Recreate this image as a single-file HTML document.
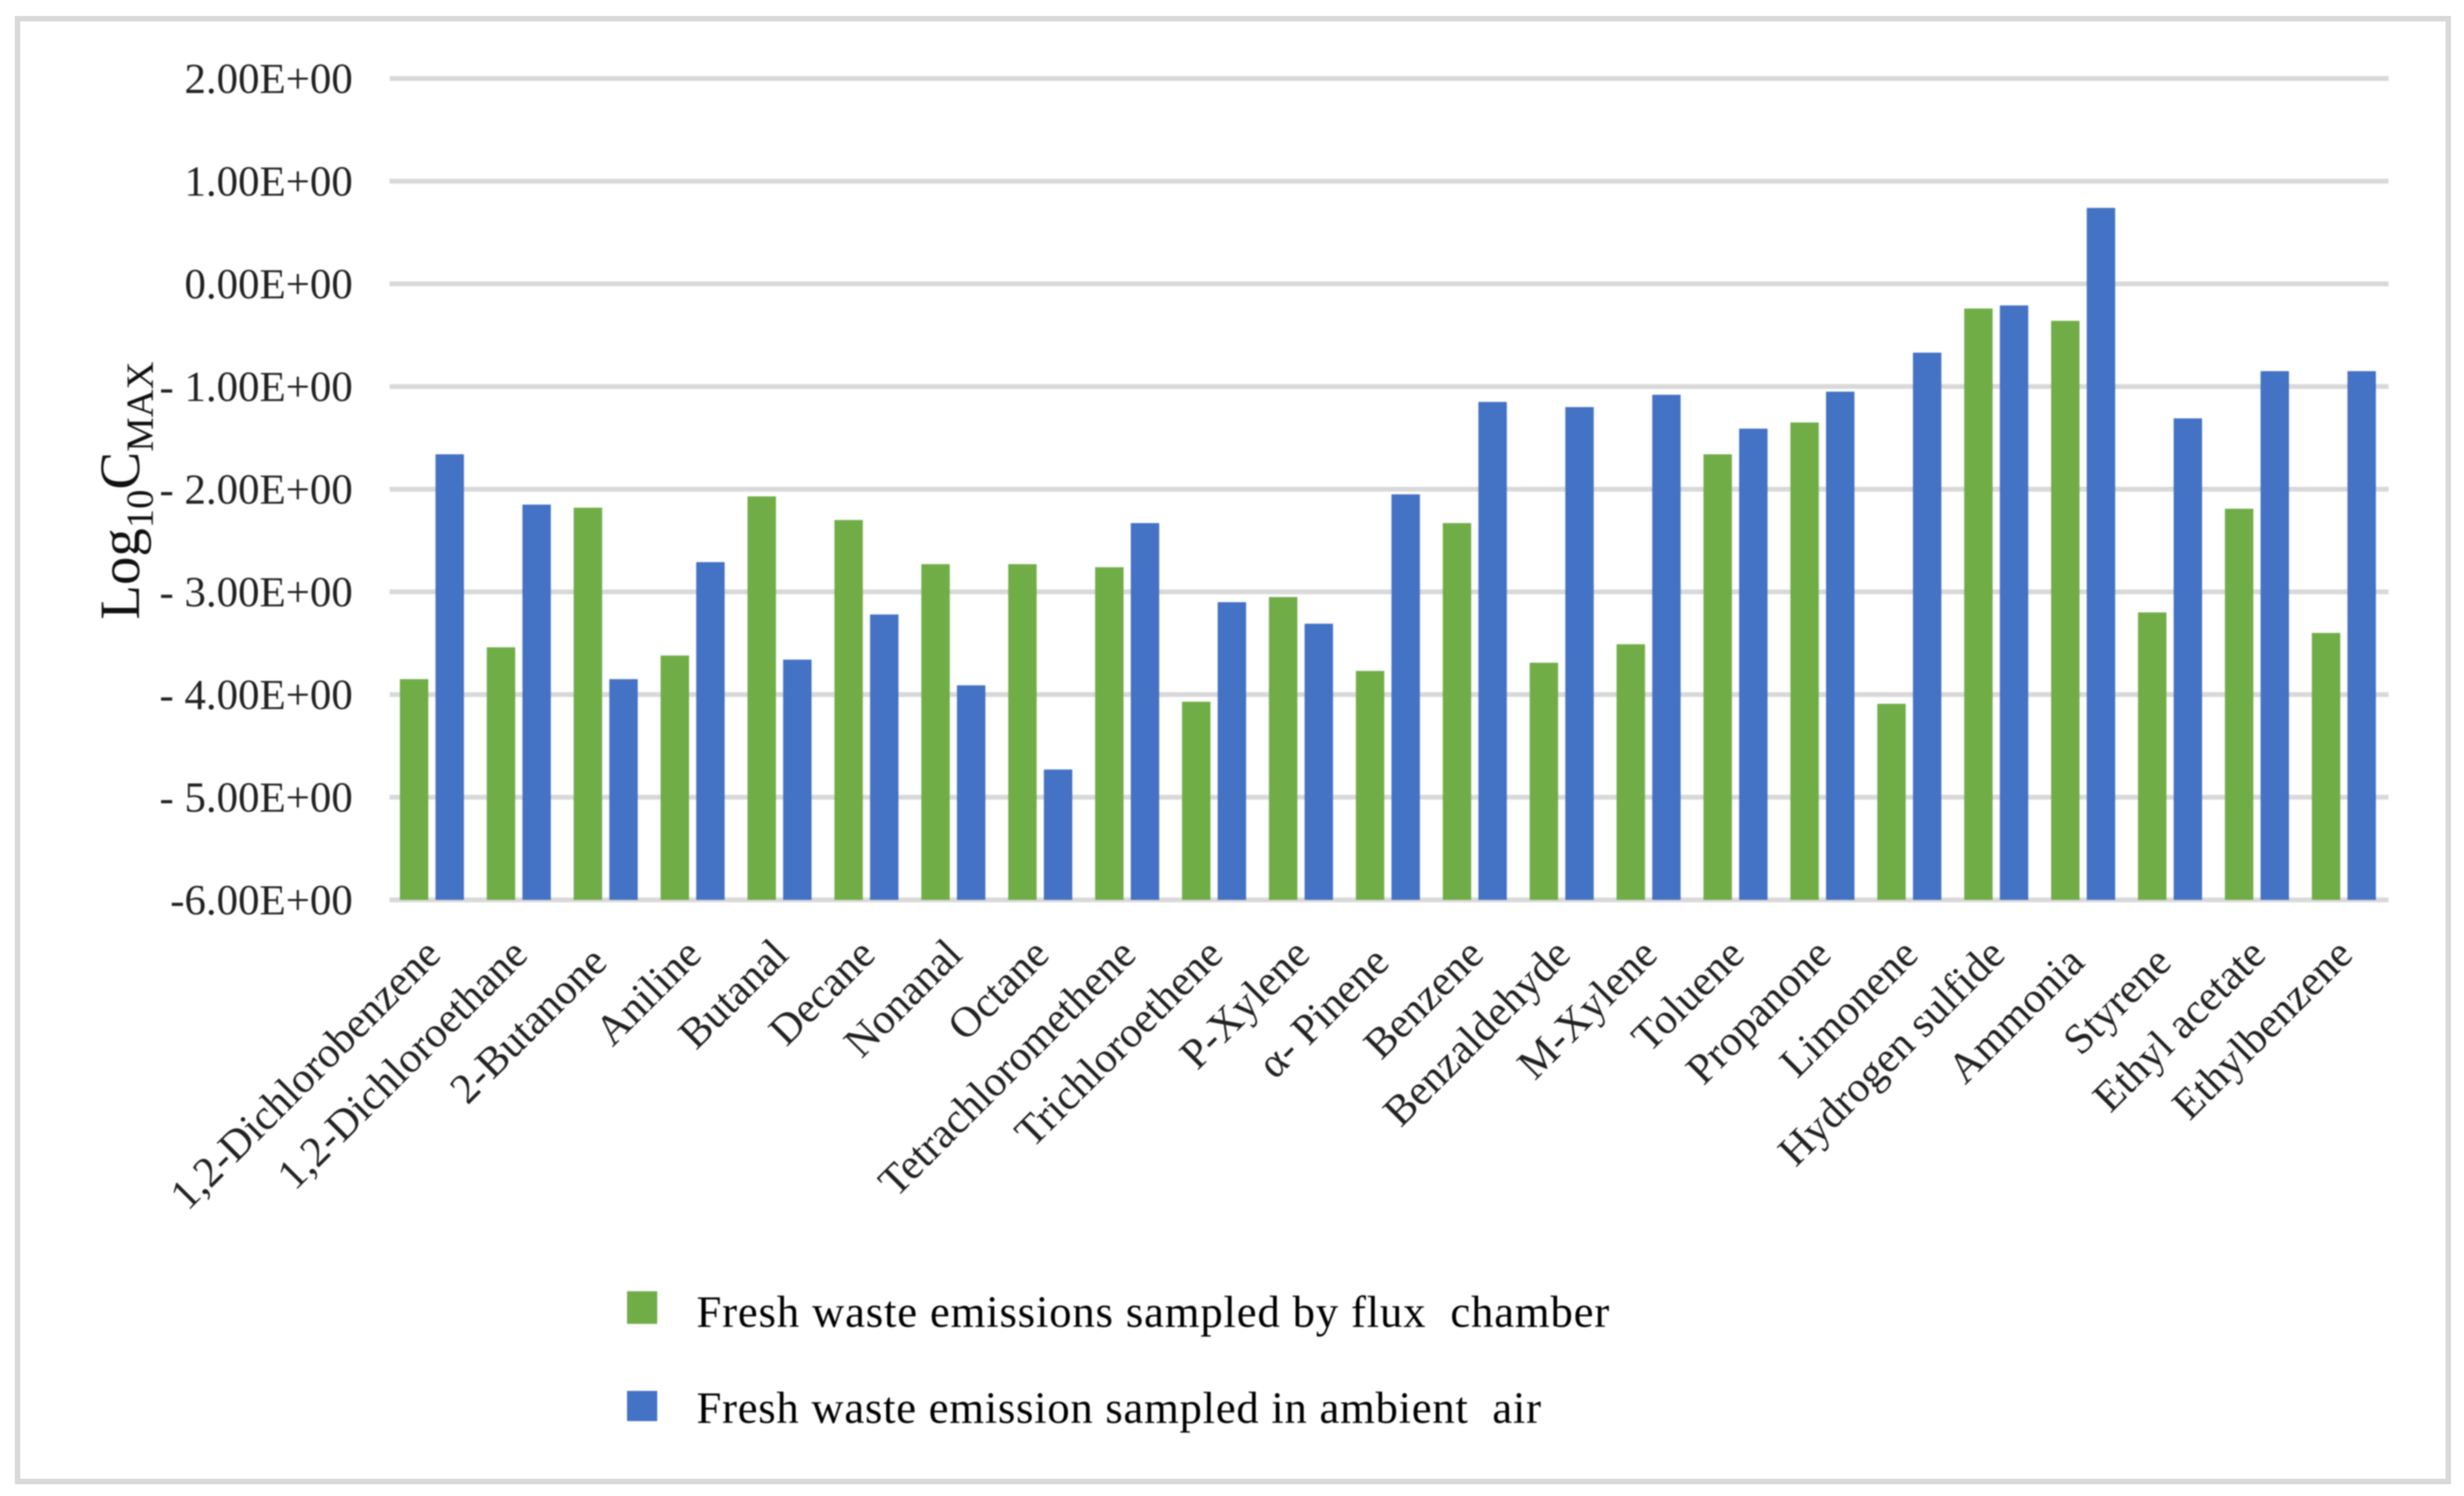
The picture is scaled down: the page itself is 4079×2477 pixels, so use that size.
<!DOCTYPE html>
<html lang="en">
<head>
<meta charset="utf-8">
<title>Log10 CMAX of fresh waste emissions</title>
<style>
html,body{margin:0;padding:0;background:#fff;}
#chart{display:block;width:4079px;height:2477px;}
text{font-family:"Liberation Serif","DejaVu Serif",serif;white-space:pre;}
#blurred{filter:blur(1.1px);}
</style>
</head>
<body>
<svg id="chart" xmlns="http://www.w3.org/2000/svg" width="4079" height="2477" viewBox="0 0 4079 2477">
  <rect x="0" y="0" width="4079" height="2477" fill="#ffffff"/>
  <rect x="29" y="31" width="4024" height="2422" fill="#ffffff" stroke="#d9d9d9" stroke-width="9"/>
  <g id="blurred">
    <g id="grid"></g>
    <g id="ylabels"></g>
    <g id="bars"></g>
    <g id="xlabels"></g>
    <text x="230" y="1026" transform="rotate(-90 230 1026)" font-size="94" fill="#111">Log<tspan font-size="64" dy="23">10</tspan><tspan font-size="94" dy="-23">C</tspan><tspan font-size="64" dy="23">MAX</tspan></text>
    <rect x="1038" y="2138" width="50" height="54" fill="#70ad47"/>
    <text x="1153" y="2197" font-size="74" fill="#000" textLength="1511" lengthAdjust="spacing">Fresh waste emissions sampled by flux  chamber</text>
    <rect x="1038" y="2303" width="50" height="50" fill="#4472c4"/>
    <text x="1153" y="2356" font-size="74" fill="#000" textLength="1398" lengthAdjust="spacing">Fresh waste emission sampled in ambient  air</text>
  </g>
</svg>
<script>
var categories = ["1,2-Dichlorobenzene","1,2-Dichloroethane","2-Butanone ","Aniline","Butanal","Decane","Nonanal","Octane","Tetrachloromethene","Trichloroethene","P-Xylene","\u03b1- Pinene ","Benzene","Benzaldehyde","M-Xylene","Toluene","Propanone","Limonene","Hydrogen sulfide","Ammonia ","Styrene ","Ethyl acetate","Ethylbenzene"];
var fluxChamber = [-3.85,-3.54,-2.18,-3.62,-2.07,-2.30,-2.73,-2.73,-2.76,-4.07,-3.05,-3.77,-2.33,-3.69,-3.51,-1.66,-1.35,-4.09,-0.24,-0.36,-3.20,-2.19,-3.40];
var ambientAir = [-1.66,-2.15,-3.85,-2.71,-3.66,-3.22,-3.91,-4.73,-2.33,-3.10,-3.31,-2.05,-1.15,-1.20,-1.08,-1.41,-1.05,-0.67,-0.21,0.74,-1.31,-0.85,-0.85];
var tickValues = [2,1,0,-1,-2,-3,-4,-5,-6];
var tickLabels = ["2.00E+00","1.00E+00","0.00E+00","- 1.00E+00","- 2.00E+00","- 3.00E+00","- 4.00E+00","- 5.00E+00","-6.00E+00"];

var SVG_NS = "http://www.w3.org/2000/svg";
var plotLeft = 645, plotRight = 3954;
var band = (plotRight - plotLeft) / categories.length;
var barWidth = band * 0.327, barGap = band * 0.083, barOffset = band * 0.118;

function yScale(v) { return 470 - 170 * v; }
function xBand(i) { return plotLeft + band * i; }

tickValues.forEach(function (v, i) {
  var line = document.createElementNS(SVG_NS, "line");
  line.setAttribute("x1", plotLeft);
  line.setAttribute("x2", plotRight);
  line.setAttribute("y1", yScale(v));
  line.setAttribute("y2", yScale(v));
  line.setAttribute("stroke", "#d9d9d9");
  line.setAttribute("stroke-width", "8");
  
  
  document.getElementById("grid").appendChild(line);

  var t = document.createElementNS(SVG_NS, "text");
  t.setAttribute("x", 584);
  t.setAttribute("y", yScale(v) + 24);
  t.setAttribute("text-anchor", "end");
  t.setAttribute("font-size", "71");
  t.setAttribute("fill", "#222");
  t.textContent = tickLabels[i];
  
  
  document.getElementById("ylabels").appendChild(t);
});

function addBar(x, value, color, seriesName) {
  var r = document.createElementNS(SVG_NS, "rect");
  var top = yScale(value), base = yScale(-6);
  r.setAttribute("x", x);
  r.setAttribute("y", top);
  r.setAttribute("width", barWidth);
  r.setAttribute("height", base - top);
  r.setAttribute("fill", color);
  
  
  document.getElementById("bars").appendChild(r);
}

categories.forEach(function (name, i) {
  var x0 = xBand(i) + barOffset;
  addBar(x0, fluxChamber[i], "#70ad47", "bar-flux-chamber");
  addBar(x0 + barWidth + barGap, ambientAir[i], "#4472c4", "bar-ambient-air");

  var px = xBand(i) + band / 2 + 16, py = 1584;
  var t = document.createElementNS(SVG_NS, "text");
  t.setAttribute("x", px);
  t.setAttribute("y", py);
  t.setAttribute("text-anchor", "end");
  t.setAttribute("font-size", "71");
  t.setAttribute("fill", "#222");
  t.setAttribute("transform", "rotate(-45 " + px + " " + py + ")");
  t.textContent = name;
  
  
  document.getElementById("xlabels").appendChild(t);
});
</script>
</body>
</html>
